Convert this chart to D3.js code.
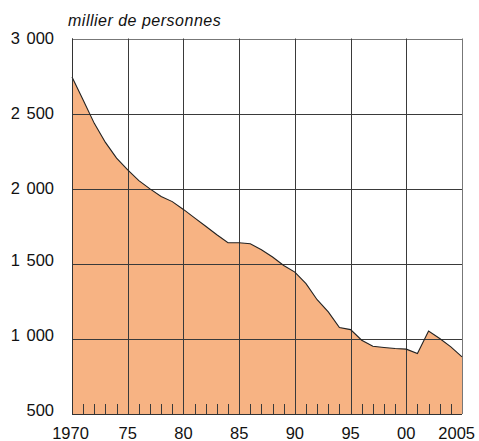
<!DOCTYPE html>
<html><head><meta charset="utf-8">
<script src="https://cdn.jsdelivr.net/npm/d3@7"></script>
<style>html,body{margin:0;padding:0;background:#fff;}svg{display:block;font-family:"Liberation Sans",Arial,sans-serif;}</style>
</head><body>
<script>
const years = [1970,1971,1972,1973,1974,1975,1976,1977,1978,1979,1980,1981,1982,1983,1984,1985,1986,1987,1988,1989,1990,1991,1992,1993,1994,1995,1996,1997,1998,1999,2000,2001,2002,2003,2004,2005];
const values = [2744,2590,2435,2308,2204,2125,2054,1999,1948,1914,1862,1806,1750,1693,1640,1640,1633,1594,1545,1489,1445,1368,1261,1180,1076,1062,991,951,943,936,932,903,1052,1003,947,880];
const yTicks = [500,1000,1500,2000,2500,3000];
const yTickLabels = ["500","1 000","1 500","2 000","2 500","3 000"];
const xTicks = [1970,1975,1980,1985,1990,1995,2000,2005];
const xTickLabels = ["1970","75","80","85","90","95","00","2005"];
const unitLabel = "millier de personnes";

const W = 479, H = 441;
const svg = d3.select("body").append("svg").attr("width", W).attr("height", H);
const x = d3.scaleLinear().domain([1970, 2005]).range([72, 462]);
const y = d3.scaleLinear().domain([500, 3000]).range([414, 38.5]);
const data = years.map((yr, i) => ({yr, v: values[i]}));
const px = v => Math.round(v) + 0.5;

// area
svg.append("path").datum(data)
  .attr("d", d3.area().x(d => x(d.yr)).y0(y(500)).y1(d => y(d.v)))
  .attr("fill", "#f7b383");

// grid horizontal
svg.append("g").selectAll("line").data(yTicks).join("line")
  .attr("x1", x(1970)).attr("x2", x(2005))
  .attr("y1", d => px(y(d))).attr("y2", d => px(y(d)))
  .attr("stroke", d => d === 3000 ? "#777" : "#3a3a3a").attr("stroke-width", 1);
// grid vertical
svg.append("g").selectAll("line").data(xTicks).join("line")
  .attr("y1", y(500)).attr("y2", y(3000))
  .attr("x1", d => px(x(d))).attr("x2", d => px(x(d)))
  .attr("stroke", d => d === 2005 ? "#777" : "#3a3a3a").attr("stroke-width", 1);
// minor ticks
svg.append("g").selectAll("line").data(years.filter(d => d % 5 !== 0)).join("line")
  .attr("y1", y(500)).attr("y2", y(500) - 10)
  .attr("x1", d => px(x(d))).attr("x2", d => px(x(d)))
  .attr("stroke", "#3a3a3a").attr("stroke-width", 1);

// curve line
svg.append("path").datum(data)
  .attr("d", d3.line().x(d => x(d.yr)).y(d => y(d.v)))
  .attr("fill", "none").attr("stroke", "#222").attr("stroke-width", 1.1);

// left and bottom axis lines
svg.append("line").attr("x1", px(x(1970))).attr("x2", px(x(1970))).attr("y1", y(3000)).attr("y2", y(500)+0.5).attr("stroke", "#333");
svg.append("line").attr("x1", x(1970)).attr("x2", x(2005)).attr("y1", px(y(500))).attr("y2", px(y(500))).attr("stroke", "#333");

// y labels
svg.append("g").selectAll("text").data(yTicks).join("text")
  .attr("x", 54).attr("y", d => y(d) - (d < 2000 ? 4 : 0.6))
  .attr("dy", "0.36em")
  .attr("text-anchor", "end")
  .attr("font-size", 16.5).attr("fill", "#111")
  .style("word-spacing", "2px")
  .text((d, i) => yTickLabels[i]);

// x labels
svg.append("g").selectAll("text").data(xTicks).join("text")
  .attr("x", (d, i) => i === xTicks.length - 1 ? 475 : x(d) - (i === 0 ? 1.5 : 0))
  .attr("y", 439)
  .attr("text-anchor", (d, i) => i === xTicks.length - 1 ? "end" : "middle")
  .attr("font-size", 16.5).attr("fill", "#111")
  .text((d, i) => xTickLabels[i]);

// unit label
svg.append("text").attr("x", 68).attr("y", 26)
  .attr("font-size", 16).attr("font-style", "italic").attr("fill", "#111")
  .attr("letter-spacing", 0.5)
  .text(unitLabel);
</script>
</body></html>
